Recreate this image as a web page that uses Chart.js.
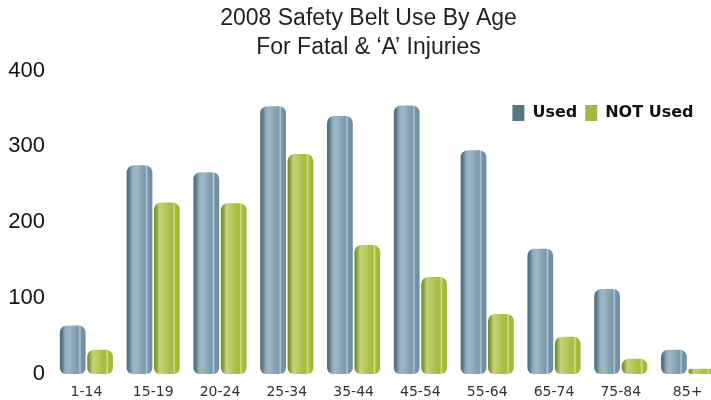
<!DOCTYPE html>
<html>
<head>
<meta charset="utf-8">
<script src="https://cdn.jsdelivr.net/npm/chart.js@4/dist/chart.umd.min.js"></script>
<style>
  html, body { margin: 0; padding: 0; background: #ffffff; }
  #wrap { width: 711px; height: 400px; position: relative; }
</style>
</head>
<body>
<div id="wrap"><canvas id="c" width="711" height="400"></canvas></div>
<script>
// ---- data ----
const categories = ['1-14', '15-19', '20-24', '25-34', '35-44', '45-54', '55-64', '65-74', '75-84', '85+'];
const usedValues = [64, 275, 266, 353, 340, 354, 295, 165, 112, 32];
const notUsedValues = [32, 226, 225, 290, 170, 128, 79, 49, 20, 7];
const seriesNames = ['Used', 'NOT Used'];
const yTicks = [0, 100, 200, 300, 400];
const titleLines = ['2008 Safety Belt Use By Age', 'For Fatal & \u2018A\u2019 Injuries'];

// ---- styles ----
const legendColors = ['#5a7786', '#a6b83f'];
const blueStops = [[0, '#4d6a7a'], [0.1, '#5f7d8d'], [0.22, '#93aebd'], [0.36, '#a0b7c4'], [0.55, '#89a5b5'], [0.72, '#7b9aad'], [0.78, '#b6cad5'], [0.83, '#7896a9'], [1, '#6d8c9f']];
const greenStops = [[0, '#74882a'], [0.1, '#8ea23a'], [0.22, '#c4d27e'], [0.36, '#bccd6a'], [0.55, '#adc14a'], [0.72, '#a7bc3e'], [0.78, '#d3e08f'], [0.83, '#a9bd3e'], [1, '#a0b538']];
const CAT_PCT = 0.82;
const BAR_PCT = 0.94;

function cylinderFill(stops, fallback) {
  return (ctx) => {
    const chart = ctx.chart;
    const xs = chart.scales && chart.scales.x;
    if (ctx.type !== 'data' || !xs || !chart.chartArea) return fallback;
    const n = chart.data.labels.length;
    const cw = (xs.right - xs.left) / n;
    const range = cw * CAT_PCT;
    const size = range / 2;
    const center = xs.getPixelForValue(ctx.dataIndex) - range / 2 + size * (ctx.datasetIndex + 0.5);
    const w = size * BAR_PCT;
    if (!isFinite(center)) return fallback;
    const g = chart.ctx.createLinearGradient(center - w / 2, 0, center + w / 2, 0);
    stops.forEach(([o, c]) => g.addColorStop(o, c));
    return g;
  };
}

const layoutTweaks = {
  id: 'layoutTweaks',
  beforeLayout(chart) {
    const lg = chart.legend;
    if (lg && !lg._zeroFit) {
      const f = lg.fit;
      lg.fit = function () { f.call(this); this._realHeight = this.height; this.height = 0; };
      lg._zeroFit = true;
    }
  },
  afterLayout(chart) {
    const xs = chart.scales.x;
    xs.right = 721; xs.width = xs.right - xs.left; xs.configure();
    const lg = chart.legend;
    if (lg) {
      lg.top = 97; lg.height = lg._realHeight; lg.bottom = lg.top + lg.height;
      lg.right = 701.5; lg.width = lg.right - lg.left;
    }
    const tb = chart.titleBlock;
    if (tb) { tb.left = 26; tb.right = 711; tb.width = tb.right - tb.left; }
  }
};

new Chart(document.getElementById('c'), {
  type: 'bar',
  data: {
    labels: categories,
    datasets: [
      { label: seriesNames[0], data: usedValues, backgroundColor: cylinderFill(blueStops, legendColors[0]) },
      { label: seriesNames[1], data: notUsedValues, backgroundColor: cylinderFill(greenStops, legendColors[1]) }
    ]
  },
  plugins: [layoutTweaks],
  options: {
    responsive: false,
    animation: false,
    events: [],
    layout: { padding: 0 },
    datasets: {
      bar: {
        categoryPercentage: CAT_PCT,
        barPercentage: BAR_PCT,
        borderWidth: 0,
        borderSkipped: false,
        borderRadius: { topLeft: 7, topRight: 7, bottomLeft: 6, bottomRight: 6 }
      }
    },
    plugins: {
      title: {
        display: true,
        text: titleLines,
        color: '#231f20',
        font: { family: "'Liberation Sans', Arial, sans-serif", size: 23, weight: 'normal', lineHeight: 29 / 23 },
        padding: { top: 4.5, bottom: 8 }
      },
      legend: {
        display: true,
        position: 'top',
        align: 'end',
        labels: {
          boxWidth: 12,
          boxHeight: 16,
          padding: 8,
          color: '#111111',
          font: { family: "'DejaVu Sans', sans-serif", size: 16, weight: 'bold' },
          generateLabels: (chart) => Chart.defaults.plugins.legend.labels.generateLabels(chart).map((it, i) => Object.assign(it, { fillStyle: legendColors[i], strokeStyle: legendColors[i], lineWidth: 0 }))
        }
      },
      tooltip: { enabled: false }
    },
    scales: {
      x: {
        offset: true,
        grid: { display: false, drawTicks: false },
        border: { display: false },
        ticks: { color: '#333333', padding: 10, font: { family: "'DejaVu Sans', sans-serif", size: 14 } },
        afterFit: (s) => { s.height = 26; }
      },
      y: {
        min: 0,
        max: 400,
        grid: { display: false, drawTicks: false },
        border: { display: false },
        afterBuildTicks: (s) => { s.ticks = yTicks.map(v => ({ value: v })); },
        ticks: { color: '#111111', padding: 8, font: { family: "'Liberation Sans', Arial, sans-serif", size: 22 } },
        afterFit: (s) => { s.width = 53; }
      }
    }
  }
});
</script>
</body>
</html>
